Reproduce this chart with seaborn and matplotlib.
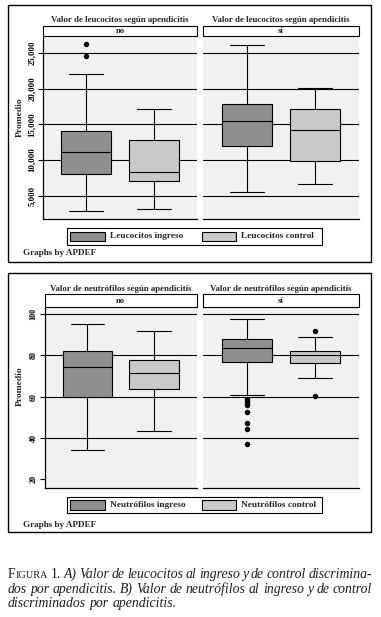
import numpy as np
import pandas as pd
import matplotlib
matplotlib.use("Agg")
import matplotlib.pyplot as plt
from matplotlib.patches import Rectangle
import seaborn as sns

# ---------------- data ----------------
panels = ["no", "sí"]
leu_measures = ["Leucocitos ingreso", "Leucocitos control"]
neu_measures = ["Neutrófilos ingreso", "Neutrófilos control"]
# order of boxes: no-ingreso, no-control, sí-ingreso, sí-control
leu_q1 = [8000, 7000, 12000, 9800]
leu_med = [11050, 8300, 15450, 14150]
leu_q3 = [14050, 12750, 17850, 17150]
leu_lo = [2850, 3100, 5450, 6650]
leu_hi = [22000, 17200, 26050, 20050]
leu_out = [[24500, 26300], [], [], []]
leu_ticks = [5000, 10000, 15000, 20000, 25000]
leu_ticklabels = ["5,000", "10,000", "15,000", "20,000", "25,000"]

neu_q1 = [59.8, 63.6, 76.7, 76.3]
neu_med = [74.2, 71.3, 83.5, 80.2]
neu_q3 = [82.4, 77.7, 88.2, 82.4]
neu_lo = [34.2, 43.1, 61.0, 69.0]
neu_hi = [95.2, 92.0, 97.6, 89.2]
neu_out = [[], [], [59.0, 57.9, 56.7, 55.8, 52.4, 47.0, 44.1, 36.9], [92.0, 60.1]]
neu_ticks = [20, 40, 60, 80, 100]
neu_ticklabels = ["20", "40", "60", "80", "100"]

leu_title = "Valor de leucocitos según apendicitis"
neu_title = "Valor de neutrófilos según apendicitis"
note = "Graphs by APDEF"
ylab = "Promedio"

DARK = "#8f8f8f"
LIGHT = "#c9c9c9"
BG = "#f1f1f1"

W, H = 381, 617
sns.set_theme(style="white")
plt.rcParams["font.family"] = ["Liberation Serif", "DejaVu Serif"]

fig = plt.figure(figsize=(W / 100, H / 100), dpi=100)
fig.patch.set_facecolor("white")


def fx(x):
    return x / W


def fy(y):
    return 1 - y / H


def rect(x0, y0, x1, y1, **kw):
    r = Rectangle((fx(x0), fy(y1)), (x1 - x0) / W, (y1 - y0) / H,
                  transform=fig.transFigure, **kw)
    fig.add_artist(r)
    return r


def make_frame(measures, q1, med, q3, lo, hi, out, M=50):
    rows = []
    keys = [(p, m) for p in panels for m in measures]
    for i, (p, m) in enumerate(keys):
        vals = [lo[i], hi[i]] + list(out[i]) + [q1[i]] * M + [med[i]] * M + [q3[i]] * M
        rows += [(p, m, v) for v in vals]
    return pd.DataFrame(rows, columns=["apendicitis", "medida", "valor"])


def draw_graph(df, measures, frame_y, ax_y, ax_x, strip_y, title_y, ylim,
               ticks, ticklabels, tick_fs, ylab_y, legend_y, note_y, hide_grid):
    # outer frame
    rect(7.5, frame_y[0], 371, frame_y[1], fill=False, ec="black", lw=1.0)
    for j, p in enumerate(panels):
        x0, x1 = ax_x[j]
        ax = fig.add_axes([fx(x0), fy(ax_y[1]), (x1 - x0) / W, (ax_y[1] - ax_y[0]) / H])
        ax.set_facecolor(BG)
        sub = df[df["apendicitis"] == p]
        sns.boxplot(data=sub, x="apendicitis", y="valor", hue="medida",
                    order=[p], hue_order=measures, palette=[DARK, LIGHT],
                    saturation=1, width=0.876, gap=0.26, linecolor="black",
                    linewidth=0.8, whis=1.5, legend=False, ax=ax,
                    flierprops=dict(marker="o", markerfacecolor="black",
                                    markeredgecolor="black", markersize=2.9))
        # widen caps (library draws them at half box width)
        for ln in ax.lines:
            xd, yd = np.asarray(ln.get_xdata(), float), np.asarray(ln.get_ydata(), float)
            if len(xd) == 2 and yd[0] == yd[1] and xd[0] != xd[1] and abs(xd[1] - xd[0]) < 0.25:
                c = xd.mean()
                h = abs(xd[1] - xd[0]) / 2 * 1.36
                ln.set_xdata([c - h, c + h])
        ax.set_xlim(-0.5, 0.5)
        ax.set_ylim(*ylim)
        ax.set_xlabel("")
        ax.set_ylabel("")
        ax.set_xticks([])
        ax.set_yticks(ticks)
        ax.set_axisbelow(True)
        ax.yaxis.grid(True, color="black", lw=0.8)
        if hide_grid is not None:
            for t, gl in zip(ticks, ax.get_ygridlines()):
                if t == hide_grid:
                    gl.set_visible(False)
        for s in ["top", "right"]:
            ax.spines[s].set_visible(False)
        ax.spines["bottom"].set_color("black")
        ax.spines["bottom"].set_linewidth(0.9)
        if j == 0:
            ax.spines["left"].set_color("black")
            ax.spines["left"].set_linewidth(0.9)
            ax.set_yticklabels(ticklabels, rotation=90, va="center",
                               fontweight="bold", fontsize=tick_fs)
            ax.tick_params(axis="y", left=True, direction="out", length=3.5,
                           width=0.8, pad=1.5, colors="black")
        else:
            ax.spines["left"].set_visible(False)
            ax.tick_params(axis="y", left=False, labelleft=False)
        # strip and title
        rect(x0, strip_y[0], x1, strip_y[1], fc="white", ec="black", lw=0.8)
        fig.text(fx((x0 + x1) / 2), fy((strip_y[0] + strip_y[1]) / 2), p,
                 ha="center", va="center", fontsize=6.2, fontweight="bold")
        fig.text(fx((x0 + x1) / 2), fy(title_y),
                 leu_title if "Leuc" in measures[0] else neu_title,
                 ha="center", va="center", fontsize=6.4, fontweight="bold")
    # y label
    fig.text(fx(20), fy(ylab_y), ylab, rotation=90, ha="center", va="center",
             fontsize=6.8, fontweight="bold")
    # legend
    ly0, ly1 = legend_y
    rect(66.5, ly0, 321.5, ly1, fill=False, ec="black", lw=0.8)
    cy = (ly0 + ly1) / 2
    for (px0, px1, tx), col, lab in zip([(70, 104.5, 109.5), (201.5, 235.7, 241)],
                                        [DARK, LIGHT], measures):
        rect(px0, cy - 4.7, px1, cy + 4.7, fc=col, ec="black", lw=0.8)
        fig.text(fx(tx), fy(cy), lab, ha="left", va="center", fontsize=6.7,
                 fontweight="bold")
    fig.text(fx(23), fy(note_y), note, ha="left", va="center", fontsize=6.6,
             fontweight="bold")


leu_df = make_frame(leu_measures, leu_q1, leu_med, leu_q3, leu_lo, leu_hi, leu_out)
neu_df = make_frame(neu_measures, neu_q1, neu_med, neu_q3, neu_lo, neu_hi, neu_out)

draw_graph(leu_df, leu_measures, frame_y=(4.5, 262), ax_y=(35.5, 219),
           ax_x=[(43, 197), (203, 359)], strip_y=(26, 35.5), title_y=20.5,
           ylim=(1730, 27430), ticks=leu_ticks, ticklabels=leu_ticklabels,
           tick_fs=6.3, ylab_y=117, legend_y=(228, 245), note_y=252.5,
           hide_grid=None)
draw_graph(neu_df, neu_measures, frame_y=(272.7, 531.7), ax_y=(307.3, 488.3),
           ax_x=[(44.5, 197), (203, 359)], strip_y=(294.3, 307.3), title_y=289.3,
           ylim=(15.5, 103.4), ticks=neu_ticks, ticklabels=neu_ticklabels,
           tick_fs=5.9, ylab_y=386, legend_y=(496.7, 513.3), note_y=525,
           hide_grid=20)

# ---------------- caption ----------------
renderer = fig.canvas.get_renderer()
CAP_FS = 9.95
left_x, right_x = 8, 372
lines = [
    ([[("F", "normal", 1.0), ("IGURA", "normal", 0.74)], [("1.", "normal", 1.0)],
      [("A)", "italic", 1.0)]] +
     [[(w, "italic", 1.0)] for w in "Valor de leucocitos al ingreso y de control discrimina-".split()],
     578, True),
    ([[(w, "italic", 1.0)] for w in
      "dos por apendicitis. B) Valor de neutrófilos al ingreso y de control".split()],
     592.8, True),
    ([[(w, "italic", 1.0)] for w in "discriminados por apendicitis.".split()],
     607.3, False),
]


def width_of(t):
    return t.get_window_extent(renderer).width


for words, base_y, justify in lines:
    made = []
    for word in words:
        runs = []
        for txt, style, sc in word:
            t = fig.text(0, fy(base_y), txt, ha="left", va="baseline",
                         fontsize=CAP_FS * sc, fontstyle=style, color="#1e1e1e")
            runs.append(t)
        made.append(runs)
    sp_t = fig.text(0, 0, "a a", fontsize=CAP_FS, fontstyle="italic")
    sp_t2 = fig.text(0, 0, "aa", fontsize=CAP_FS, fontstyle="italic")
    nat_space = width_of(sp_t) - width_of(sp_t2)
    sp_t.remove()
    sp_t2.remove()
    wws = [[width_of(t) for t in runs] for runs in made]
    total = sum(sum(w) for w in wws)
    if justify and len(made) > 1:
        space = (right_x - left_x - total) / (len(made) - 1)
    else:
        space = nat_space
    x = left_x
    for runs, ws in zip(made, wws):
        for t, w in zip(runs, ws):
            t.set_x(fx(x))
            x += w
        x += space

fig.savefig("out.png", dpi=100)
